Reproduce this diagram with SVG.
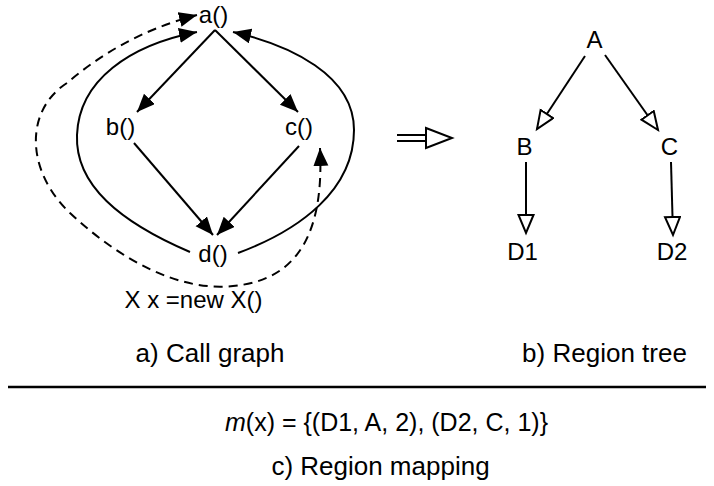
<svg xmlns="http://www.w3.org/2000/svg" width="714" height="486" viewBox="0 0 714 486">
<style>
text{font-family:"Liberation Sans",Arial,Helvetica,sans-serif;fill:#000;text-anchor:middle}
.n{font-size:24px}
.cap{font-size:26px}
.e{fill:none;stroke:#000;stroke-width:2}
.d{stroke-dasharray:9,6}
.t{fill:none;stroke:#000;stroke-width:2;marker-end:url(#open)}
</style>
<defs>
<marker id="fill" markerUnits="userSpaceOnUse" markerWidth="20" markerHeight="16" refX="18" refY="7.5" orient="auto-start-reverse">
<path d="M0,0 L18,7.5 L0,15 z" fill="#000"/>
</marker>
<marker id="open" markerUnits="userSpaceOnUse" markerWidth="22" markerHeight="18" refX="19" refY="8.5" orient="auto">
<path d="M1,1 L19,8.5 L1,16 z" fill="#fff" stroke="#000" stroke-width="2"/>
</marker>
</defs>
<g id="connectors">
<path class="e" d="M215,30 L137,112" marker-end="url(#fill)"/>
<path class="e" d="M215,30 L298,112" marker-end="url(#fill)"/>
<path class="e" d="M134,143 L213,235" marker-end="url(#fill)"/>
<path class="e" d="M299,146 L217,235" marker-end="url(#fill)"/>
<path class="e" d="M190,252 C120,222 75,185 77,135 C79,80 130,45 197,32" marker-end="url(#fill)"/>
<path class="e" d="M238,253 C300,230 354,190 354,130 C354,75 290,45 233,32" marker-end="url(#fill)"/>
<path class="e d" d="M320,148 C324,230 300,280 233,286 C180,292 120,260 70,213 C25,170 25,110 67,83 C100,55 140,30 197,15" marker-start="url(#fill)" marker-end="url(#fill)"/>
<path class="t" d="M585,56 L537,129"/>
<path class="t" d="M605,55 L658,130"/>
<path class="t" d="M526,162 L526,233"/>
<path class="t" d="M671,162 L673,235"/>
<g id="implies">
<path d="M397,135 H427 M397,141 H427" stroke="#000" stroke-width="2" fill="none"/>
<path d="M426,128 L452,138 L426,148 z" fill="#fff" stroke="#000" stroke-width="2"/>
</g>
</g>
<g id="node-a"><text class="n" x="213.5" y="23">a()</text></g>
<g id="node-b"><text class="n" x="120.5" y="135">b()</text></g>
<g id="node-c"><text class="n" x="299" y="135">c()</text></g>
<g id="node-d"><text class="n" x="213" y="262">d()</text></g>
<g id="alloc"><text class="n" x="193.5" y="308">X x =new X()</text></g>
<g id="node-A"><text class="n" x="594.5" y="48">A</text></g>
<g id="node-B"><text class="n" x="524.5" y="155">B</text></g>
<g id="node-C"><text class="n" x="669.5" y="155">C</text></g>
<g id="node-D1"><text class="n" x="522.5" y="260">D1</text></g>
<g id="node-D2"><text class="n" x="672" y="260">D2</text></g>
<g id="captions">
<text class="cap" x="210" y="362">a) Call graph</text>
<text class="cap" x="604.5" y="362">b) Region tree</text>
<line x1="8" y1="387" x2="706" y2="387" stroke="#000" stroke-width="2.5"/>
<text class="n" x="386.5" y="431" style="font-size:25px"><tspan font-style="italic">m</tspan>(x) = {(D1, A, 2), (D2, C, 1)}</text>
<text class="cap" x="380.5" y="475">c) Region mapping</text>
</g>
</svg>
